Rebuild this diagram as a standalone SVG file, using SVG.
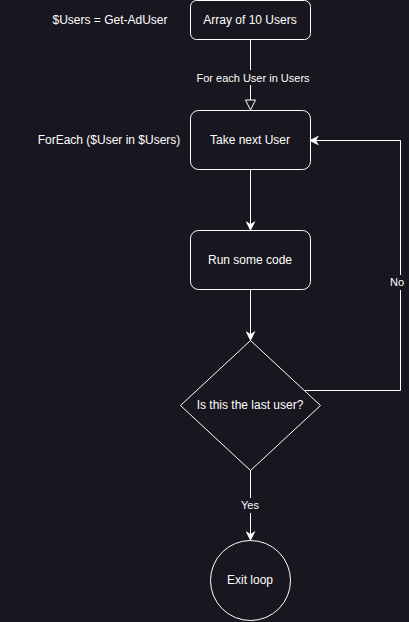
<svg xmlns="http://www.w3.org/2000/svg" width="409" height="622" viewBox="0 0 409 622">
<style>
.n{fill:#18161e;stroke:#ffffff;stroke-width:1}
.t{fill:#ffffff;font-family:"Liberation Sans",Arial,sans-serif;font-size:12px;text-anchor:middle;dominant-baseline:central}
.l{fill:#ffffff;font-family:"Liberation Sans",Arial,sans-serif;font-size:11px;text-anchor:middle;dominant-baseline:central}
.e{fill:none;stroke:#ffffff;stroke-width:1}
.lb{fill:#18161e}
</style>
<defs>
<marker id="arr" viewBox="0 0 10 10" refX="9" refY="5" markerWidth="10" markerHeight="10" markerUnits="userSpaceOnUse" orient="auto">
<path d="M0,0 L10,5 L0,10 L3,5 Z" fill="#ffffff"/>
</marker>
<marker id="open" viewBox="0 0 12 12" refX="11" refY="6" markerWidth="12" markerHeight="12" markerUnits="userSpaceOnUse" orient="auto">
<path d="M1,1 L11,6 L1,11 Z" fill="#18161e" stroke="#ffffff" stroke-width="1"/>
</marker>
</defs>
<rect width="409" height="622" fill="#18161e"/>
<g id="connectors">
<path class="e" d="M250.5,40 L250.5,110" marker-end="url(#open)"/>
<rect class="lb" x="196" y="70" width="118" height="15"/>
<text class="l" x="253" y="78">For each User in Users</text>
<path class="e" d="M250.5,170 L250.5,230" marker-end="url(#arr)"/>
<path class="e" d="M250.5,290 L250.5,340" marker-end="url(#arr)"/>
<path class="e" d="M304,390.5 L400.5,390.5 L400.5,140.5 L310,140.5" marker-end="url(#arr)"/>
<rect class="lb" x="388" y="275" width="20" height="15"/>
<text class="l" x="397" y="282">No</text>
<path class="e" d="M250.5,470 L250.5,540" marker-end="url(#arr)"/>
<rect class="lb" x="238" y="498" width="24" height="15"/>
<text class="l" x="250" y="505">Yes</text>
</g>
<g id="label-users"><text class="t" x="110" y="20">$Users = Get-AdUser</text></g>
<g id="label-foreach"><text class="t" x="109" y="140">ForEach ($User in $Users)</text></g>
<g id="array"><rect class="n" x="190.5" y="0.5" width="120" height="39" rx="6"/><text class="t" x="250" y="20">Array of 10 Users</text></g>
<g id="take"><rect class="n" x="190.5" y="110.5" width="120" height="59" rx="8"/><text class="t" x="250" y="140">Take next User</text></g>
<g id="run"><rect class="n" x="190.5" y="230.5" width="120" height="59" rx="8"/><text class="t" x="250" y="260">Run some code</text></g>
<g id="decision"><path class="n" d="M250.5,340.5 L320.5,405.5 L250.5,470.5 L180.5,405.5 Z"/><text class="t" x="250" y="405">Is this the last user?</text></g>
<g id="exit"><circle class="n" cx="250.5" cy="580.5" r="40"/><text class="t" x="250" y="580">Exit loop</text></g>
</svg>
